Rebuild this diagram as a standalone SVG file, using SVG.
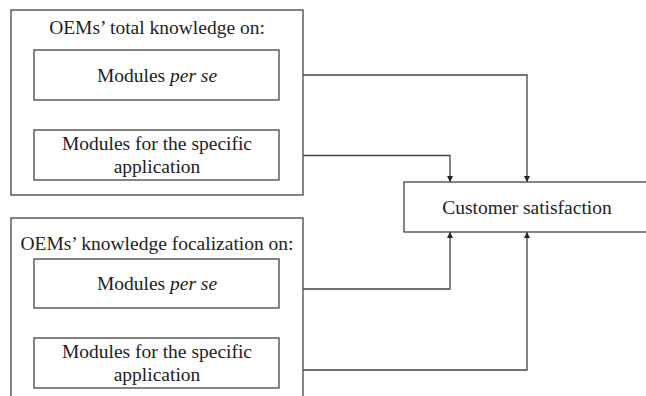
<svg xmlns="http://www.w3.org/2000/svg" width="646" height="396" viewBox="0 0 646 396">
<style>
.box{fill:#fff;stroke:#444;stroke-width:1.3}
.t{font-family:'Liberation Serif','Times New Roman',Tinos,'DejaVu Serif',serif;font-size:19.5px;fill:#222;text-anchor:middle}
.c{fill:none;stroke:#444;stroke-width:1.3}
</style>
<defs>
<marker id="ah" viewBox="0 0 10 10" refX="10" refY="5" markerWidth="6" markerHeight="6" markerUnits="userSpaceOnUse" orient="auto">
<path d="M0,0 L10,5 L0,10 z" fill="#222"/>
</marker>
</defs>
<rect width="646" height="396" fill="#fff"/>
<g id="total">
<rect class="box" x="11" y="10" width="292" height="185"/>
<text class="t" x="157" y="34">OEMs’ total knowledge on:</text>
</g>
<g id="total-perse">
<rect class="box" x="34" y="50" width="245" height="50"/>
<text class="t" x="157" y="82">Modules <tspan font-style="italic">per se</tspan></text>
</g>
<g id="total-specific">
<rect class="box" x="34" y="130" width="245" height="50"/>
<text class="t" x="157" y="150">Modules for the specific</text>
<text class="t" x="157" y="173">application</text>
</g>
<g id="focal">
<rect class="box" x="11" y="218" width="292" height="190"/>
<text class="t" x="157" y="250">OEMs’ knowledge focalization on:</text>
</g>
<g id="focal-perse">
<rect class="box" x="34" y="259" width="245" height="49"/>
<text class="t" x="157" y="290">Modules <tspan font-style="italic">per se</tspan></text>
</g>
<g id="focal-specific">
<rect class="box" x="34" y="338" width="245" height="50"/>
<text class="t" x="157" y="358">Modules for the specific</text>
<text class="t" x="157" y="381">application</text>
</g>
<g id="customer">
<rect class="box" x="404" y="182" width="250" height="50"/>
<text class="t" x="527" y="214">Customer satisfaction</text>
</g>
<g id="connectors">
<path class="c" d="M303,75 H527 V182" marker-end="url(#ah)"/>
<path class="c" d="M303,155.5 H450 V182" marker-end="url(#ah)"/>
<path class="c" d="M303,289 H450 V232" marker-end="url(#ah)"/>
<path class="c" d="M303,370 H527 V232" marker-end="url(#ah)"/>
</g>
</svg>
